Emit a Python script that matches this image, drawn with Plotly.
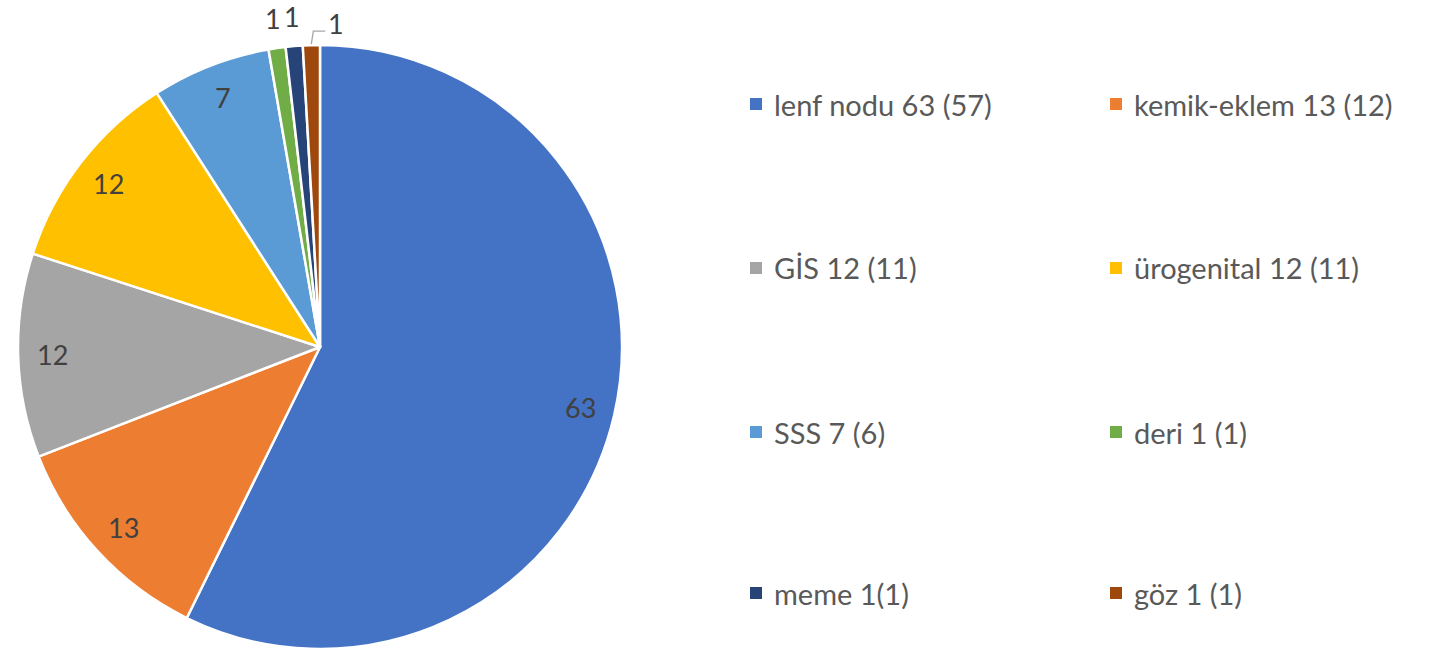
import math
import plotly.graph_objects as go

categories = ["lenf nodu", "kemik-eklem", "GİS", "ürogenital", "SSS", "deri", "meme", "göz"]
values = [63, 13, 12, 12, 7, 1, 1, 1]
legend_labels = ["lenf nodu 63 (57)", "kemik-eklem 13 (12)", "GİS 12 (11)", "ürogenital 12 (11)",
                 "SSS 7 (6)", "deri 1 (1)", "meme 1(1)", "göz 1 (1)"]
colors = ["#4472C4", "#ED7D31", "#A5A5A5", "#FFC000", "#5B9BD5", "#70AD47", "#264478", "#9E480E"]
label_outside = [False, False, False, False, False, True, True, True]

W, H = 1430, 649
font_family = "Lato, 'Open Sans', sans-serif"

# pie geometry (pixels)
CX, CY, R = 320, 347, 302

fig = go.Figure(go.Pie(
    labels=categories,
    values=values,
    sort=False,
    direction="clockwise",
    rotation=0,
    marker=dict(colors=colors, line=dict(color="white", width=2.5)),
    textinfo="none",
    showlegend=False,
    hoverinfo="label+value",
    domain=dict(x=[(CX - R) / W, (CX + R) / W], y=[1 - (CY + R) / H, 1 - (CY - R) / H]),
))

def px2paper(x, y):
    return x / W, 1 - y / H

annotations = []
shapes = []
total = sum(values)
cum = 0
for i, v in enumerate(values):
    mid = (cum + v / 2) / total * 2 * math.pi
    cum += v
    s, c = math.sin(mid), math.cos(mid)
    if not label_outside[i]:
        r = 0.885 * R
        x, y = CX + r * s, CY - r * c
    else:
        ex, ey = CX + R * s, CY - R * c
        if i < len(values) - 1:
            x, y = CX + 1.1 * R * s, CY - 1.1 * R * c
        else:
            # last small slice: label offset to the right with an elbow leader line
            x, y = ex + 25, ey - 22
            shapes.append(dict(type="path", xref="paper", yref="paper",
                               path="M {:.4f},{:.4f} L {:.4f},{:.4f} L {:.4f},{:.4f}".format(
                                   *px2paper(ex, ey - 1), *px2paper(ex + 2, ey - 14),
                                   *px2paper(ex + 14, ey - 14)),
                               line=dict(color="#A6A6A6", width=1.3)))
    px, py = px2paper(x, y)
    annotations.append(dict(xref="paper", yref="paper", x=px, y=py, text=str(v),
                            showarrow=False, xanchor="center", yanchor="middle",
                            font=dict(family=font_family, size=27, color="#404040")))

# legend built from label lists: 2 columns, 4 rows
col_x = [750, 1110]
row_y = [104, 268, 432, 593]
for i, (lab, col) in enumerate(zip(legend_labels, colors)):
    cx = col_x[i % 2]
    cy = row_y[i // 2]
    x0, y1 = px2paper(cx, cy - 6)
    x1, y0 = px2paper(cx + 12, cy + 6)
    shapes.append(dict(type="rect", xref="paper", yref="paper",
                       x0=x0, x1=x1, y0=y0, y1=y1,
                       fillcolor=col, line=dict(width=0)))
    tx, ty = px2paper(cx + 22, cy)
    annotations.append(dict(xref="paper", yref="paper", x=tx, y=ty,
                            xanchor="left", yanchor="middle", showarrow=False,
                            text=lab, font=dict(family=font_family, size=29, color="#595959")))

fig.update_layout(
    width=W, height=H,
    autosize=False,
    margin=dict(l=0, r=0, t=0, b=0),
    paper_bgcolor="white",
    plot_bgcolor="white",
    shapes=shapes,
    annotations=annotations,
)

fig.write_html("out.html", config={"displayModeBar": False})

# remove default body margin so the figure sits exactly in the window
with open("out.html", "r", encoding="utf-8") as f:
    html = f.read()
html = html.replace("<head>", "<head><style>html,body{margin:0;padding:0;overflow:hidden;}</style>", 1)
with open("out.html", "w", encoding="utf-8") as f:
    f.write(html)
